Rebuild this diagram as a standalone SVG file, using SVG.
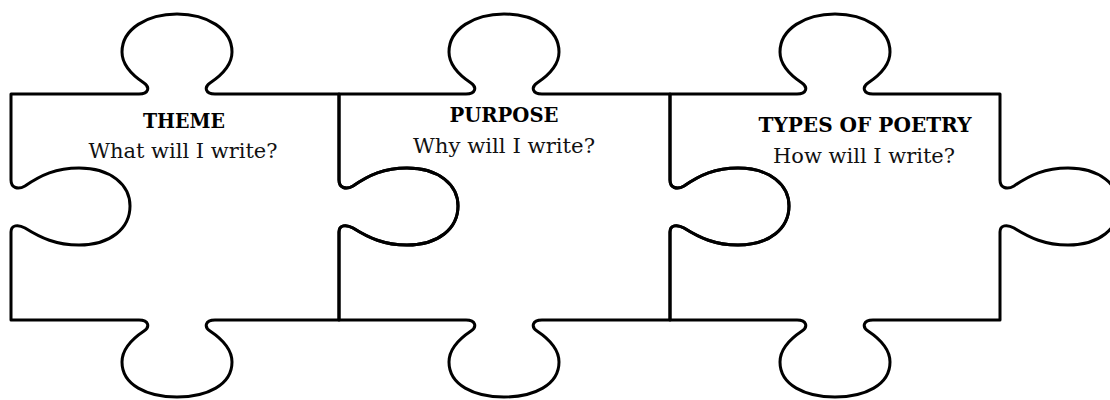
<svg xmlns="http://www.w3.org/2000/svg" width="1110" height="400" viewBox="0 0 1110 400">
<style>
.edge{fill:none;stroke:#000;stroke-width:3;stroke-linejoin:round}
.title{font-family:"DejaVu Serif","Liberation Serif",serif;font-weight:bold;font-size:21px;fill:#000;text-anchor:middle}
.sub{font-family:"DejaVu Serif","Liberation Serif",serif;font-size:21px;fill:#111;text-anchor:middle}
</style>
<rect width="1110" height="400" fill="#fff"/>
<g id="theme">
<path class="edge" d="M 11 94 H 139 C 149 94 150 87 144 83 C 135 77 122 66 122 52 C 122 29 147 14 177 14 C 207 14 232 29 232 52 C 232 66 219 77 210 83 C 204 87 205 94 215 94 H 339 L 339 180 C 339 188 346 190 353 186 C 369 175 384 168 407 168 C 439 168 458 185 458 206 C 458 228 439 245 407 245 C 384 245 369 238 353 228 C 346 224 339 225 339 232 L 339 320 H 215 C 205 320 204 327 210 331 C 219 337 232 348 232 362 C 232 385 207 397 177 397 C 147 397 122 385 122 362 C 122 348 135 337 144 331 C 150 327 149 320 139 320 H 11 L 11 232 C 11 225 18 224 25 228 C 41 238 56 245 79 245 C 111 245 130 228 130 206 C 130 185 111 168 79 168 C 56 168 41 175 25 186 C 18 190 11 188 11 180 Z"/>
<text class="title" x="184" y="128" textLength="82" lengthAdjust="spacingAndGlyphs">THEME</text>
<text class="sub" x="183" y="158" textLength="189" lengthAdjust="spacingAndGlyphs">What will I write?</text>
</g>
<g id="purpose">
<path class="edge" d="M 339 94 H 466 C 476 94 477 87 471 83 C 462 77 449 66 449 52 C 449 29 474 14 504 14 C 534 14 559 29 559 52 C 559 66 546 77 537 83 C 531 87 532 94 542 94 H 670 L 670 180 C 670 188 677 190 684 186 C 700 175 715 168 738 168 C 770 168 789 185 789 206 C 789 228 770 245 738 245 C 715 245 700 238 684 228 C 677 224 670 225 670 232 L 670 320 H 542 C 532 320 531 327 537 331 C 546 337 559 348 559 362 C 559 385 534 397 504 397 C 474 397 449 385 449 362 C 449 348 462 337 471 331 C 477 327 476 320 466 320 H 339 L 339 232 C 339 225 346 224 353 228 C 369 238 384 245 407 245 C 439 245 458 228 458 206 C 458 185 439 168 407 168 C 384 168 369 175 353 186 C 346 190 339 188 339 180 Z"/>
<text class="title" x="504" y="122" textLength="109" lengthAdjust="spacingAndGlyphs">PURPOSE</text>
<text class="sub" x="504" y="153" textLength="182" lengthAdjust="spacingAndGlyphs">Why will I write?</text>
</g>
<g id="types-of-poetry">
<path class="edge" d="M 670 94 H 797 C 807 94 808 87 802 83 C 793 77 780 66 780 52 C 780 29 805 14 835 14 C 865 14 890 29 890 52 C 890 66 877 77 868 83 C 862 87 863 94 873 94 H 1000 L 1000 180 C 1000 188 1007 190 1014 186 C 1030 175 1045 168 1068 168 C 1100 168 1119 185 1119 206 C 1119 228 1100 245 1068 245 C 1045 245 1030 238 1014 228 C 1007 224 1000 225 1000 232 L 1000 320 H 873 C 863 320 862 327 868 331 C 877 337 890 348 890 362 C 890 385 865 397 835 397 C 805 397 780 385 780 362 C 780 348 793 337 802 331 C 808 327 807 320 797 320 H 670 L 670 232 C 670 225 677 224 684 228 C 700 238 715 245 738 245 C 770 245 789 228 789 206 C 789 185 770 168 738 168 C 715 168 700 175 684 186 C 677 190 670 188 670 180 Z"/>
<text class="title" x="865" y="132" textLength="213" lengthAdjust="spacingAndGlyphs">TYPES OF POETRY</text>
<text class="sub" x="864" y="163" textLength="182" lengthAdjust="spacingAndGlyphs">How will I write?</text>
</g>
</svg>
